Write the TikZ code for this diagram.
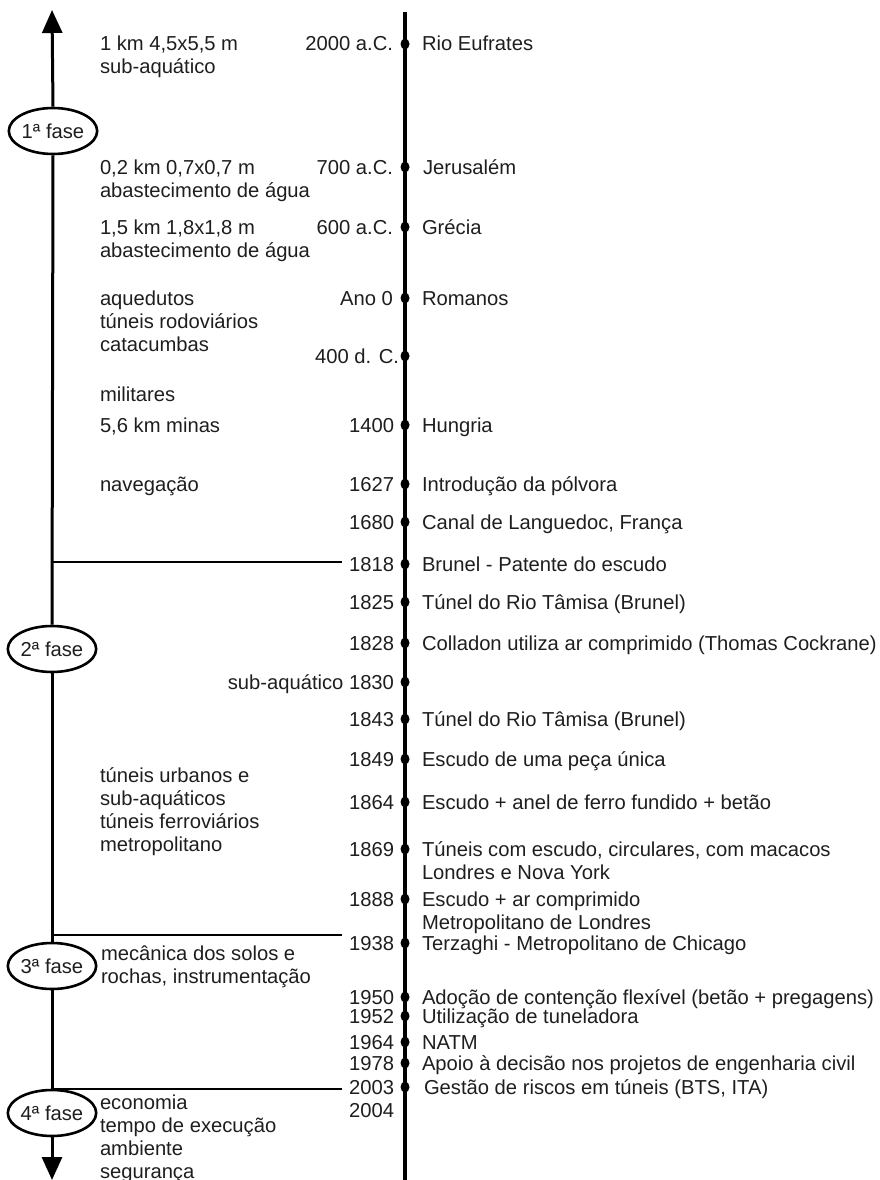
\documentclass[tikz,border=0pt]{standalone}
\usepackage{fontspec}
\setmainfont{Liberation Sans}
\usetikzlibrary{shapes.geometric,arrows.meta}
\definecolor{ink}{RGB}{30,30,30}
% left-aligned block of lines whose baseline is the first line's baseline
\newcommand{\txtlines}[1]{\begin{tabular}[t]{@{}l@{}}#1\end{tabular}}
\tikzset{
  txt/.style={font=\fontsize{20.2}{23}\selectfont, text=ink, inner sep=0pt, outer sep=0pt},
  yr/.style={txt, anchor=base east},
  ev/.style={txt, anchor=base west},
  lefttxt/.style={txt, anchor=base west},
  evdot/.style={ellipse, fill=black, minimum width=9pt, minimum height=11pt, inner sep=0pt},
  fase/.style={ellipse, draw=black, line width=2.6pt, fill=white, minimum width=83pt,
               minimum height=46pt, inner sep=0pt, font=\fontsize{20.2}{23}\selectfont, text=ink},
  leftaxis/.style={line width=3pt, draw=black},
  bigtip/.style={-{Triangle[length=23pt,width=20pt]}},
  divider/.style={line width=1.1pt, draw=black},
  timeline/.style={line width=4pt, draw=black}
}
\begin{document}
\begin{tikzpicture}[x=1pt,y=-1pt]
\useasboundingbox (0,0) rectangle (880,1180);

% main time line
\coordinate (tl-top) at (405,12);
\coordinate (tl-bot) at (405,1180);
\draw[timeline] (tl-top) -- (tl-bot);

% phase dividers
\coordinate (dv1a) at (52,562);  \coordinate (dv1b) at (342,562);
\coordinate (dv2a) at (52,935);  \coordinate (dv2b) at (342,935);
\coordinate (dv3a) at (52,1089); \coordinate (dv3b) at (342,1089);
\draw[divider] (dv1a) -- (dv1b);
\draw[divider] (dv2a) -- (dv2b);
\draw[divider] (dv3a) -- (dv3b);

% phases on the left axis
\node[fase] (f1) at (53,131)  {1ª fase};
\node[fase] (f2) at (52,649)  {2ª fase};
\node[fase] (f3) at (52,966)  {3ª fase};
\node[fase] (f4) at (52,1113) {4ª fase};
\coordinate (ax-top) at (52,10);
\coordinate (ax-bot) at (52,1180);
\draw[leftaxis, bigtip] (f1.north) -- (ax-top);
\draw[leftaxis] (f1.south) -- (f2.north);
\draw[leftaxis] (f2.south) -- (f3.north);
\draw[leftaxis] (f3.south) -- (f4.north);
\draw[leftaxis, bigtip] (f4.south) -- (ax-bot);

% events: dot, year, description
\node[evdot] (d1) at (405,44) {};
\node[yr] (y1) at (393,51) {2000 a.C.};
\node[ev] (e1) at (422,51) {Rio Eufrates};

\node[evdot] (d2) at (405,167) {};
\node[yr] (y2) at (393,174) {700 a.C.};
\node[ev] (e2) at (423,174) {Jerusalém};

\node[evdot] (d3) at (405,227) {};
\node[yr] (y3) at (393,234) {600 a.C.};
\node[ev] (e3) at (422,234) {Grécia};

\node[evdot] (d4) at (405,298) {};
\node[yr] (y4) at (393,305) {Ano 0};
\node[ev] (e4) at (422,305) {Romanos};

\node[evdot] (d5) at (405,356) {};
\node[yr] (y5) at (399,363) {400 d. C.};

\node[evdot] (d6) at (405,425) {};
\node[yr] (y6) at (394,432) {1400};
\node[ev] (e6) at (422,432) {Hungria};

\node[evdot] (d7) at (405,484) {};
\node[yr] (y7) at (394,491) {1627};
\node[ev] (e7) at (422,491) {Introdução da pólvora};

\node[evdot] (d8) at (405,522) {};
\node[yr] (y8) at (394,529) {1680};
\node[ev] (e8) at (422,529) {Canal de Languedoc, França};

\node[evdot] (d9) at (405,564) {};
\node[yr] (y9) at (394,571) {1818};
\node[ev] (e9) at (422,571) {Brunel - Patente do escudo};

\node[evdot] (d10) at (405,602) {};
\node[yr] (y10) at (394,609) {1825};
\node[ev] (e10) at (422,609) {Túnel do Rio Tâmisa (Brunel)};

\node[evdot] (d11) at (405,643) {};
\node[yr] (y11) at (394,650) {1828};
\node[ev] (e11) at (422,650) {Colladon utiliza ar comprimido (Thomas Cockrane)};

\node[evdot] (d12) at (405,682) {};
\node[yr] (y12) at (394,689) {sub-aquático 1830};

\node[evdot] (d13) at (405,719) {};
\node[yr] (y13) at (394,726) {1843};
\node[ev] (e13) at (422,726) {Túnel do Rio Tâmisa (Brunel)};

\node[evdot] (d14) at (405,759) {};
\node[yr] (y14) at (394,766) {1849};
\node[ev] (e14) at (422,766) {Escudo de uma peça única};

\node[evdot] (d15) at (405,802) {};
\node[yr] (y15) at (394,809) {1864};
\node[ev] (e15) at (422,809) {Escudo + anel de ferro fundido + betão};

\node[evdot] (d16) at (405,849) {};
\node[yr] (y16) at (394,856) {1869};
\node[ev] (e16) at (422,856) {\txtlines{Túneis com escudo, circulares, com macacos\\Londres e Nova York}};

\node[evdot] (d17) at (405,899) {};
\node[yr] (y17) at (394,906) {1888};
\node[ev] (e17) at (422,906) {\txtlines{Escudo + ar comprimido\\Metropolitano de Londres}};

\node[evdot] (d18) at (405,943) {};
\node[yr] (y18) at (394,950) {1938};
\node[ev] (e18) at (422,950) {Terzaghi - Metropolitano de Chicago};

\node[evdot] (d19) at (405,997) {};
\node[yr] (y19) at (394,1004) {1950};
\node[ev] (e19) at (422,1004) {Adoção de contenção flexível (betão + pregagens)};

\node[evdot] (d20) at (405,1016) {};
\node[yr] (y20) at (394,1023) {1952};
\node[ev] (e20) at (422,1023) {Utilização de tuneladora};

\node[evdot] (d21) at (405,1042) {};
\node[yr] (y21) at (394,1049) {1964};
\node[ev] (e21) at (422,1049) {NATM};

\node[evdot] (d22) at (405,1063) {};
\node[yr] (y22) at (394,1070) {1978};
\node[ev] (e22) at (422,1070) {Apoio à decisão nos projetos de engenharia civil};

\node[evdot] (d23) at (405,1087) {};
\node[yr] (y23) at (394,1094) {2003};
\node[ev] (e23) at (424,1094) {Gestão de riscos em túneis (BTS, ITA)};

\node[yr] (y24) at (394,1117) {2004};

% notes on the left
\node[lefttxt] (n1) at (100,51)  {\txtlines{1 km 4,5x5,5 m\\sub-aquático}};
\node[lefttxt] (n2) at (100,174) {\txtlines{0,2 km 0,7x0,7 m\\abastecimento de água}};
\node[lefttxt] (n3) at (100,234) {\txtlines{1,5 km 1,8x1,8 m\\abastecimento de água}};
\node[lefttxt] (n4) at (100,305) {\txtlines{aquedutos\\túneis rodoviários\\catacumbas}};
\node[lefttxt] (n5) at (100,401) {militares};
\node[lefttxt] (n6) at (100,432) {5,6 km minas};
\node[lefttxt] (n7) at (100,491) {navegação};
\node[lefttxt] (n8) at (100,782) {\txtlines{túneis urbanos e\\sub-aquáticos\\túneis ferroviários\\metropolitano}};
\node[lefttxt] (n9) at (101,960) {\txtlines{mecânica dos solos e\\rochas, instrumentação}};
\node[lefttxt] (n10) at (100,1109) {\txtlines{economia\\tempo de execução\\ambiente\\segurança}};
\end{tikzpicture}
\end{document}
